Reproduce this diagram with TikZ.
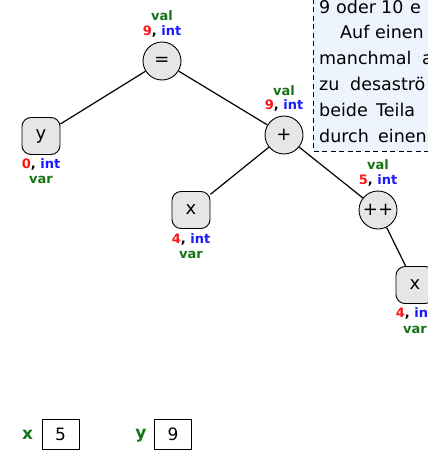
\documentclass[tikz,border=0pt]{standalone}
\usepackage{fontspec}
\setmainfont{DejaVu Sans}
\usetikzlibrary{shapes.geometric}
\definecolor{vgreen}{RGB}{20,115,20}
\definecolor{vred}{RGB}{255,20,20}
\definecolor{vblue}{RGB}{25,25,255}
\definecolor{nodefill}{RGB}{230,230,230}
\definecolor{boxfill}{RGB}{238,244,253}
\tikzset{
  opnode/.style={circle, draw, line width=0.9pt, fill=nodefill, minimum size=38pt, inner sep=0pt, font=\fontsize{18}{18}\selectfont},
  varnode/.style={rectangle, rounded corners=9pt, draw, line width=0.9pt, fill=nodefill, minimum width=38pt, minimum height=37pt, inner sep=0pt, font=\fontsize{18}{18}\selectfont},
  lbl/.style={font=\fontsize{13}{13}\selectfont\bfseries, inner sep=0pt},
  edge/.style={line width=1.2pt},
  txt/.style={anchor=base west, inner sep=0pt, font=\fontsize{17.5}{17.5}\selectfont},
  valbox/.style={draw, line width=0.8pt, minimum width=37pt, minimum height=30pt, inner sep=0pt, font=\fontsize{17}{17}\selectfont},
  vname/.style={font=\fontsize{17}{17}\selectfont\bfseries, text=vgreen, inner sep=0pt}
}
\begin{document}
\begin{tikzpicture}[x=1pt,y=-1pt]
\useasboundingbox (0,0) rectangle (428,450);
\clip (0,0) rectangle (428,450);
% text box
\draw[fill=boxfill, dash pattern=on 5pt off 3.5pt, line width=0.9pt] (313,-10) rectangle (445,151);
\node[txt] (w1) at (319,13) {9};
\node[txt] (w2) at (336,13) {oder};
\node[txt] (w3) at (381,13) {10};
\node[txt] (w4) at (410,13) {e};
\node[txt] (w5) at (340,38.5) {Auf};
\node[txt] (w6) at (375,38.5) {einen};
\node[txt] (w7) at (319,64) {manchmal};
\node[txt] (w8) at (422,64) {a};
\node[txt] (w9) at (319,90) {zu};
\node[txt] (w10) at (350,90) {desaströ};
\node[txt] (w11) at (319,116) {beide};
\node[txt] (w12) at (376,116) {Teila};
\node[txt] (w13) at (319,142) {durch};
\node[txt] (w14) at (378,142) {einen};
% tree nodes
\node[opnode] (assign) at (162,61) {=};
\node[varnode] (y) at (41,136) {y};
\node[opnode] (plus) at (284,135) {+};
\node[varnode] (x1) at (191,210) {x};
\node[opnode] (inc) at (378,210) {++};
\node[varnode] (x2) at (415,285) {x};
\draw[edge] (assign) -- (y);
\draw[edge] (assign) -- (plus);
\draw[edge] (plus) -- (x1);
\draw[edge] (plus) -- (inc);
\draw[edge] (inc) -- (x2);
% labels
\node[lbl, text=vgreen] (assignval) at (162,16) {val};
\node[lbl] (assignty) at (162,31) {\textcolor{vred}{9}, \textcolor{vblue}{int}};
\node[lbl, text=vgreen] (plusval) at (284,91) {val};
\node[lbl] (plusty) at (284,105) {\textcolor{vred}{9}, \textcolor{vblue}{int}};
\node[lbl, text=vgreen] (incval) at (378,165) {val};
\node[lbl] (incty) at (378,180) {\textcolor{vred}{5}, \textcolor{vblue}{int}};
\node[lbl] (yty) at (41,164) {\textcolor{vred}{0}, \textcolor{vblue}{int}};
\node[lbl, text=vgreen] (yvar) at (41,180) {var};
\node[lbl] (x1ty) at (191,239) {\textcolor{vred}{4}, \textcolor{vblue}{int}};
\node[lbl, text=vgreen] (x1var) at (191,255) {var};
\node[lbl] (x2ty) at (415,313) {\textcolor{vred}{4}, \textcolor{vblue}{int}};
\node[lbl, text=vgreen] (x2var) at (415,330) {var};
% variable store
\node[vname] (xname) at (27.5,435) {x};
\node[valbox] (xval) at (60.5,434) {5};
\node[vname] (yname) at (141,436) {y};
\node[valbox] (yval) at (173,434) {9};
\end{tikzpicture}
\end{document}
